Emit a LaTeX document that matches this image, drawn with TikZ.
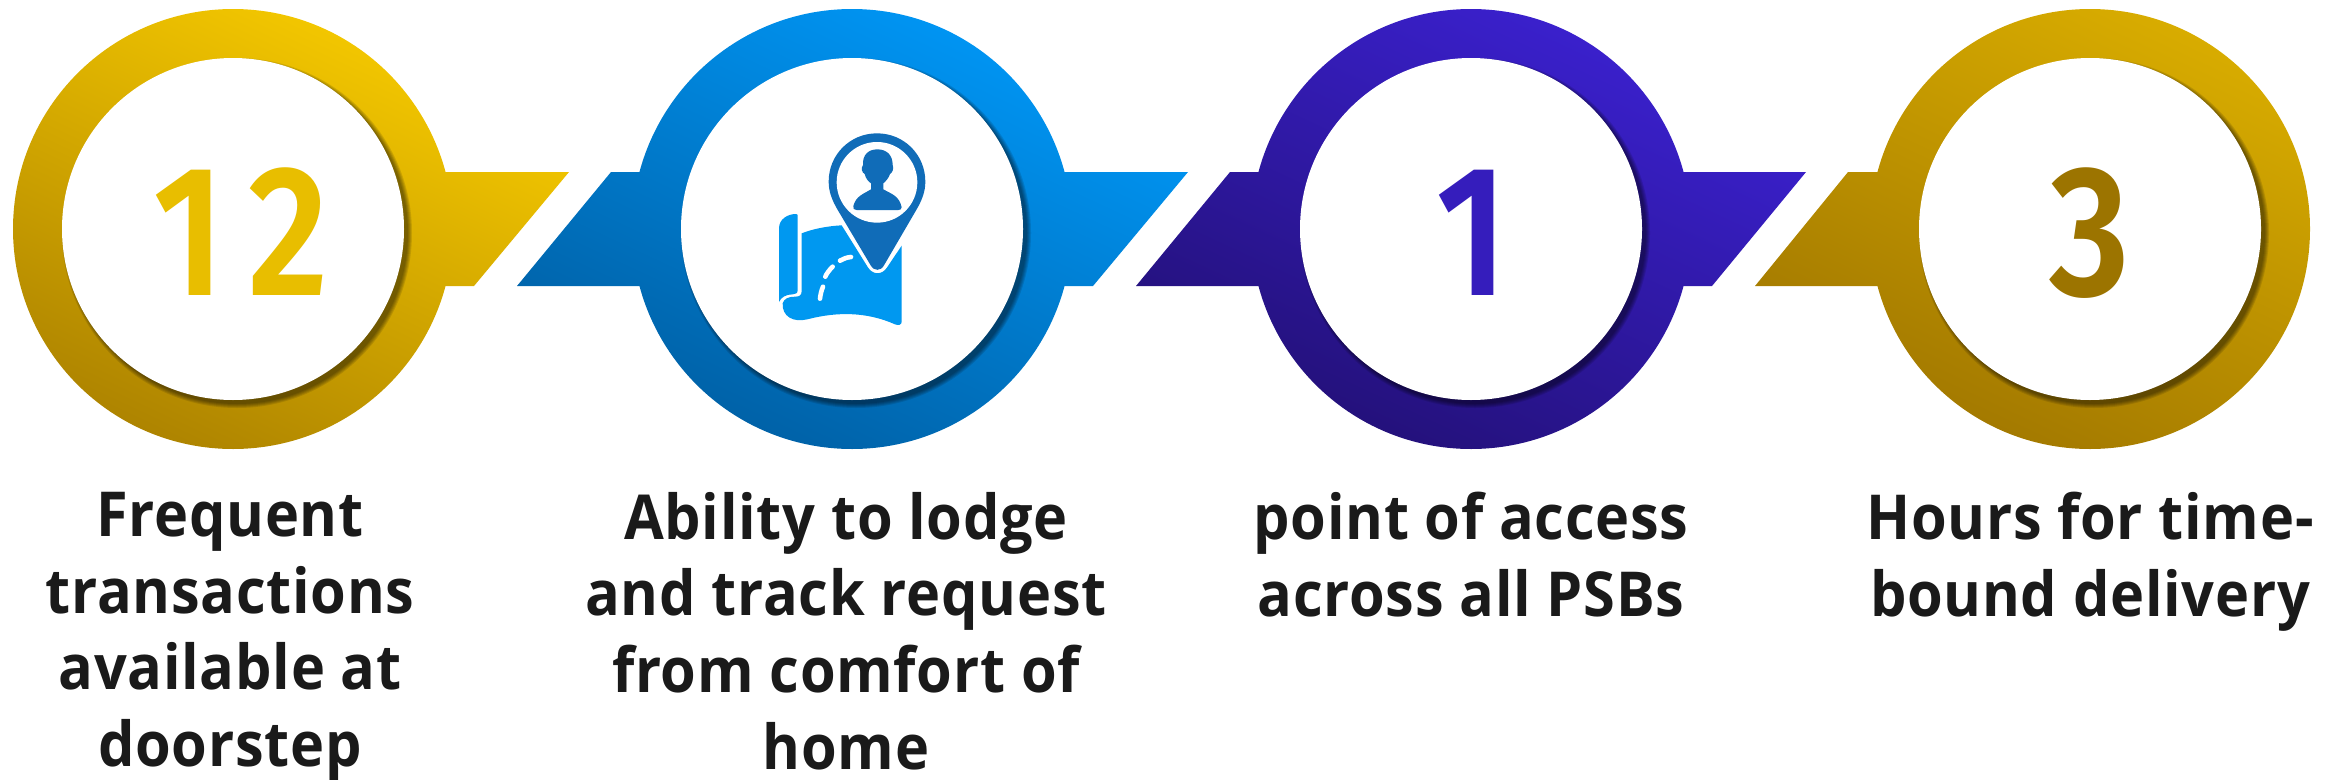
\documentclass[tikz,border=0pt]{standalone}
\usepackage{fontspec}
\newfontfamily\lblfont[LetterSpace=1.2,FakeStretch=0.93,BoldFont={Open Sans Bold}]{Open Sans}
\newfontfamily\numfont[LetterSpace=13,FakeStretch=0.84]{Fira Sans SemiBold}
\definecolor{txt}{HTML}{1A1A1A}
\definecolor{goldA}{HTML}{F2C600}\definecolor{goldB}{HTML}{AE8400}
\definecolor{blueA}{HTML}{0094F2}\definecolor{blueB}{HTML}{0062A8}
\definecolor{purpA}{HTML}{3A20CC}\definecolor{purpB}{HTML}{24117C}
\definecolor{ochrA}{HTML}{D8AC00}\definecolor{ochrB}{HTML}{A47A00}
\definecolor{pincol}{HTML}{106CB8}\definecolor{mapcol}{HTML}{0098F0}
\pgfdeclareverticalshading{goldramp}{100bp}{color(0bp)=(goldB);color(36.25bp)=(goldB);color(63.75bp)=(goldA);color(100bp)=(goldA)}
\pgfdeclareverticalshading{blueramp}{100bp}{color(0bp)=(blueB);color(36.25bp)=(blueB);color(63.75bp)=(blueA);color(100bp)=(blueA)}
\pgfdeclareverticalshading{purpramp}{100bp}{color(0bp)=(purpB);color(36.25bp)=(purpB);color(63.75bp)=(purpA);color(100bp)=(purpA)}
\pgfdeclareverticalshading{ochrramp}{100bp}{color(0bp)=(ochrB);color(36.25bp)=(ochrB);color(63.75bp)=(ochrA);color(100bp)=(ochrA)}
\tikzset{
  hole/.style={circle,fill=white,inner sep=0pt,minimum size=342pt},
  label/.style={anchor=north,align=center,text=txt,font=\lblfont\bfseries\fontsize{62}{76.6}\selectfont,inner sep=0pt},
  digit/.style={anchor=base,inner sep=0pt,font=\numfont\fontsize{186}{186}\selectfont},
  route/.style={white,line width=4.6pt,line cap=round}
}
% #1 centre x, #2 ramp, #3 wing path
\newcommand{\ringshape}[3]{%
  \begin{scope}
    \clip (#1,229) circle[radius=220] #3;
    \shade[shading=#2,shading angle=-25] (#1-400,-171) rectangle (#1+400,629);
  \end{scope}
  \foreach \r in {4,3,2,1,0}{\fill[black,opacity=.11] (#1+4,233) circle[radius=171+\r];}
}
\begin{document}
\begin{tikzpicture}[x=1pt,y=-1pt]
\useasboundingbox (0,0) rectangle (2336,779);
\ringshape{233}{goldramp}{(233,172) -- (569,172) -- (474,286) -- (233,286) -- cycle}
\ringshape{852}{blueramp}{(852,172) -- (1188,172) -- (1093,286) -- (517,286) -- (611,172) -- cycle}
\ringshape{1471}{purpramp}{(1471,172) -- (1806,172) -- (1712,286) -- (1136,286) -- (1230,172) -- cycle}
\ringshape{2090}{ochrramp}{(2090,172) -- (2090,286) -- (1755,286) -- (1848,172) -- cycle}
\node[hole] (holeA) at (233,229) {};
\node[hole] (holeB) at (852,229) {};
\node[hole] (holeC) at (1471,229) {};
\node[hole] (holeD) at (2090,229) {};
\node[digit,text=goldA!96!black] (numA) at (241,295) {12};
\node[digit,text=purpA!92!black] (numC) at (1472,295) {1};
\node[digit,text=ochrB!95!black] (numD) at (2090,295) {3};
% map icon
\begin{scope}[shift={(700,100)},scale=.33333]
  \fill[mapcol] (237,606) -- (237,385) .. controls (237,358) and (262,342) .. (288,342) .. controls (292,342) and (293,344) .. (293,348) -- (293,570) .. controls (293,580) and (287,583) .. (278,583) .. controls (258,583) and (243,592) .. (237,606) -- cycle;
  \fill[mapcol] (305,400) .. controls (340,386) and (385,378) .. (425,376) -- (505,504) .. controls (520,525) and (545,525) .. (560,504) -- (605,437) -- (605,665) .. controls (605,675) and (595,677) .. (585,673) .. controls (500,635) and (410,635) .. (322,658) .. controls (280,668) and (246,650) .. (248,610) .. controls (252,596) and (265,590) .. (285,590) .. controls (300,590) and (305,585) .. (305,572) -- cycle;
  \draw[route] (453,471) .. controls (441,472) and (430,476) .. (420,482);
  \draw[route] (398,500) .. controls (388,510) and (380,520) .. (376,530);
  \draw[route] (369,560) .. controls (364,572) and (361,585) .. (360,596);
  \fill[pincol] (531,100) .. controls (612,100) and (676,164) .. (676,245) .. controls (676,275) and (666,300) .. (650,328) -- (552,496) .. controls (542,514) and (522,514) .. (512,496) -- (412,328) .. controls (396,300) and (386,275) .. (386,245) .. controls (386,164) and (450,100) .. (531,100) -- cycle;
  \fill[white] (531,247) circle[radius=121];
  \fill[pincol] (532,148) .. controls (560,148) and (578,165) .. (578,195) .. controls (582,205) and (578,218) .. (570,222) .. controls (566,235) and (556,245) .. (550,250) -- (550,268) .. controls (575,282) and (598,288) .. (605,322) .. controls (605,328) and (600,330) .. (595,330) -- (470,330) .. controls (462,330) and (458,326) .. (460,318) .. controls (468,288) and (490,282) .. (513,268) -- (513,250) .. controls (505,245) and (497,235) .. (494,222) .. controls (486,218) and (482,205) .. (489,195) .. controls (487,165) and (505,148) .. (532,148) -- cycle;
\end{scope}
\node[label] (txtA) at (230,492) {Frequent\\transactions\\available at\\doorstep};
\node[label] (txtB) at (846,492) {Ability to lodge\\and track request\\from comfort of\\home};
\node[label] (txtC) at (1471,492) {point of access\\across all PSBs};
\node[label] (txtD) at (2090,492) {Hours for time-\\bound delivery};
\end{tikzpicture}
\end{document}
